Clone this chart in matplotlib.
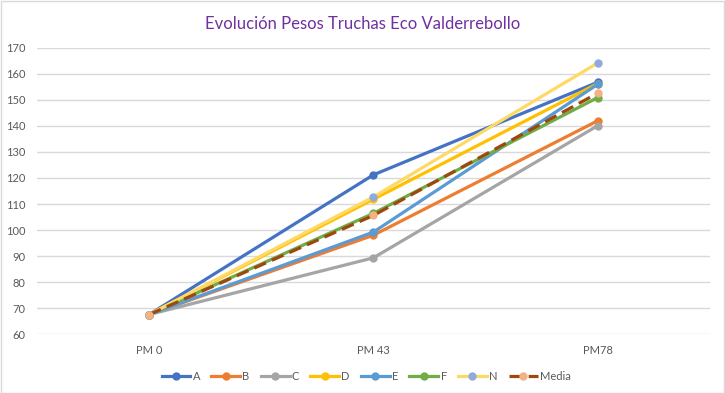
import matplotlib.pyplot as plt
from matplotlib.patches import Rectangle

plt.rcParams['font.family'] = ['Lato', 'DejaVu Sans']

categorias = ['PM 0', 'PM 43', 'PM78']
A = [67.5, 121.2, 156.8]
B = [67.5, 98.0, 142.0]
C = [67.5, 89.3, 140.1]
D = [67.5, 111.8, 156.3]
E = [67.5, 99.2, 156.0]
F = [67.5, 106.4, 150.9]
N = [67.5, 112.7, 164.2]
media = [67.5, 105.6, 152.6]

series = [
    ('A', A, '#4472C4', '#4472C4', '-'),
    ('B', B, '#ED7D31', '#ED7D31', '-'),
    ('C', C, '#A5A5A5', '#A5A5A5', '-'),
    ('D', D, '#FFC000', '#FFC000', '-'),
    ('E', E, '#5B9BD5', '#5B9BD5', '-'),
    ('F', F, '#70AD47', '#70AD47', '-'),
    ('N', N, '#FFD966', '#8FAADC', '-'),
    ('Media', media, '#9E480E', '#F4B183', '--'),
]

fig = plt.figure(figsize=(7.25, 3.93), dpi=100)
ax = fig.add_axes([0.051, 0.150, 0.928, 0.728])

x = range(len(categorias))
for nombre, vals, col, mcol, ls in series:
    ax.plot(x, vals, color=col, linestyle=ls, linewidth=2.3, marker='o',
            markersize=5, markerfacecolor=mcol, markeredgecolor=mcol,
            label=nombre, dashes=(4, 2) if ls == '--' else (None, None))

ax.set_xlim(-0.5, 2.5)
ax.set_ylim(60, 170)
ax.set_yticks(range(60, 171, 10))
ax.set_xticks(list(x))
ax.set_xticklabels(categorias)
ax.yaxis.grid(True, color='#D9D9D9', linewidth=1)
ax.set_axisbelow(True)
for s in ax.spines.values():
    s.set_visible(False)
ax.tick_params(length=0, labelsize=8, colors='#595959')
ax.tick_params(axis='x', pad=8)
ax.tick_params(axis='y', pad=8)

fig.suptitle('Evolución Pesos Truchas Eco Valderrebollo', color='#7030A0',
             fontsize=12, x=0.5, y=0.94, va='center')

fig.legend(*ax.get_legend_handles_labels(), loc='center',
           bbox_to_anchor=(0.505, 0.043), ncol=8, frameon=False, fontsize=8,
           handlelength=2.6, columnspacing=1.0, handletextpad=0.2,
           labelcolor='#595959')

fig.add_artist(Rectangle((0.001, 0.001), 0.997, 0.997, transform=fig.transFigure,
                         fill=False, edgecolor='#D9D9D9', linewidth=1))

fig.savefig('out.png', dpi=100)
